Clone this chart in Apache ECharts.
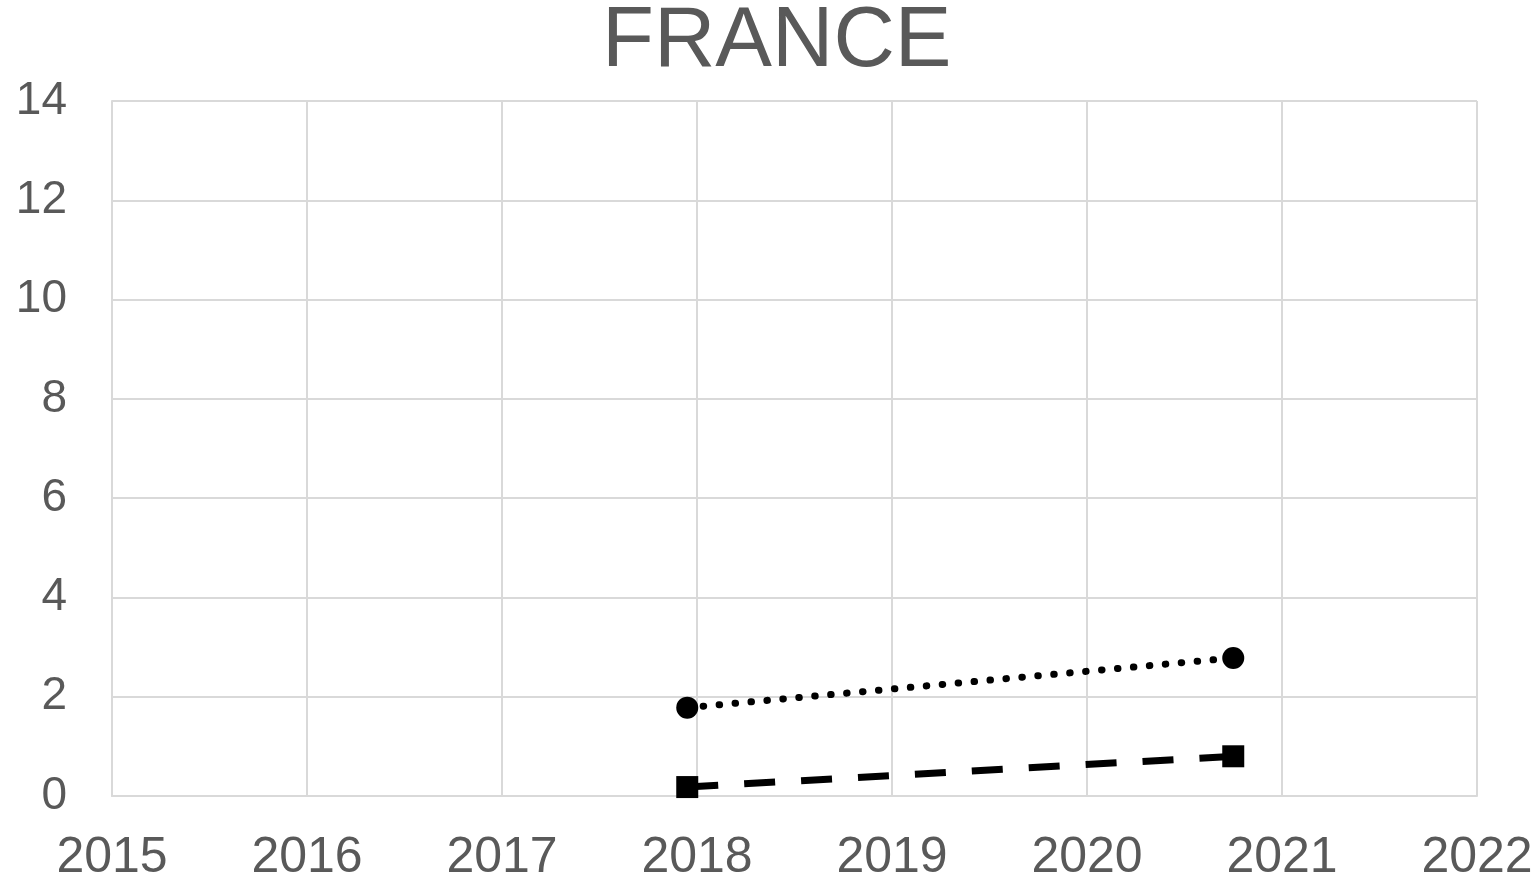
<!DOCTYPE html>
<html>
<head>
<meta charset="utf-8">
<title>FRANCE</title>
<script src="https://cdn.jsdelivr.net/npm/echarts@6/dist/echarts.min.js"></script>
<style>
  html, body { margin: 0; padding: 0; background: #fff; }
  #chart { width: 1538px; height: 886px; }
</style>
</head>
<body>
<div id="chart"></div>
<script>
// values
var years = [2017.95, 2020.75]
var circleValues = [1.78, 2.78]
var squareValues = [0.18, 0.8]
var xTicks = { min: 2015, max: 2022, interval: 1 }
var yTicks = { min: 0, max: 14, interval: 2 }

function pairs(xs, ys) {
  return xs.map(function(x, i) { return [x, ys[i]] })
}

var textColor = '#595959'
var gridColor = '#d9d9d9'
var font = '"Liberation Sans", Arial, sans-serif'

var myChart = echarts.init(document.getElementById('chart'))
const option = {
  backgroundColor: '#fff',
  animation: false,
  title: {
    text: 'FRANCE',
    left: 597,
    top: -5,
    textStyle: { color: textColor, fontSize: 85, fontWeight: 'normal', fontFamily: font }
  },
  grid: { left: 112, right: 61, top: 101, bottom: 90, containLabel: false },
  xAxis: {
    type: 'value',
    min: xTicks.min,
    max: xTicks.max,
    interval: xTicks.interval,
    axisLine: { show: true, lineStyle: { color: gridColor, width: 2 } },
    axisTick: { show: false },
    splitLine: { show: true, lineStyle: { color: gridColor, width: 2 } },
    axisLabel: {
      color: textColor, fontSize: 50, fontFamily: font, margin: 37,
      formatter: function(v) { return String(v) }
    }
  },
  yAxis: {
    type: 'value',
    min: yTicks.min,
    max: yTicks.max,
    interval: yTicks.interval,
    axisLine: { show: true, lineStyle: { color: gridColor, width: 2 } },
    axisTick: { show: false },
    splitLine: { show: true, lineStyle: { color: gridColor, width: 2 } },
    axisLabel: { color: textColor, fontSize: 46, fontFamily: font, margin: 45 }
  },
  series: [
    {
      name: 'circle',
      type: 'line',
      data: pairs(years, circleValues),
      symbol: 'circle',
      symbolSize: 22,
      itemStyle: { color: '#000' },
      lineStyle: { color: '#000', width: 7, type: [0.5, 15.5], cap: 'round' }
    },
    {
      name: 'square',
      type: 'line',
      data: pairs(years, squareValues),
      symbol: 'rect',
      symbolSize: 22,
      itemStyle: { color: '#000' },
      lineStyle: { color: '#000', width: 7, type: [31, 26], cap: 'butt' }
    }
  ]
}
myChart.setOption(option)
</script>
</body>
</html>
